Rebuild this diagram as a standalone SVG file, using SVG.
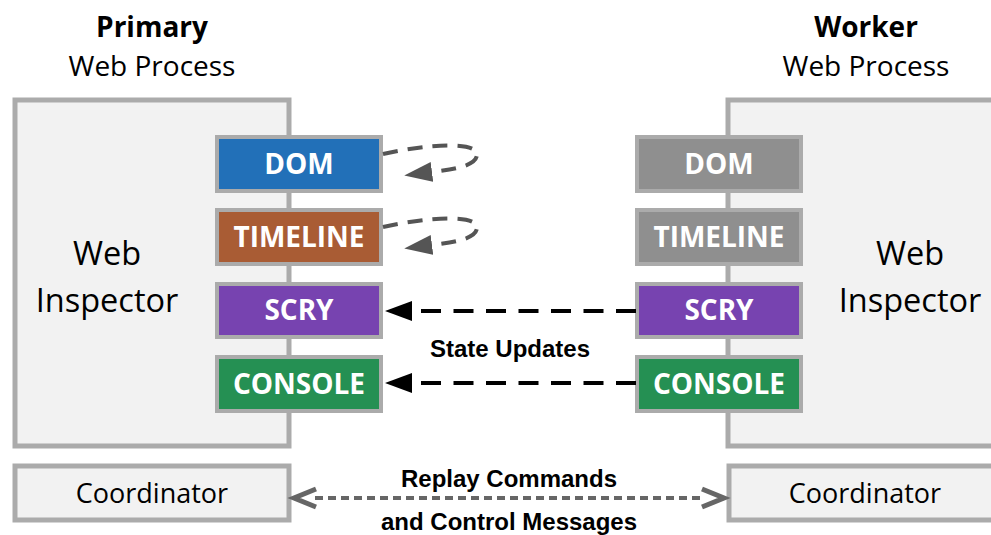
<svg xmlns="http://www.w3.org/2000/svg" width="991" height="535" viewBox="0 0 991 535">
<defs>
<style>
.frame{fill:#f2f2f2;stroke:#ababab;stroke-width:5}
.mod{stroke:#ababab;stroke-width:4}
.modt{font-family:"Open Sans","Noto Sans",sans-serif;font-weight:bold;font-size:28px;fill:#fff;text-anchor:middle}
.big{font-family:"Open Sans","Noto Sans",sans-serif;font-size:32.5px;fill:#000;text-anchor:middle}
.title{font-family:"Open Sans","Noto Sans",sans-serif;font-size:28px;fill:#000;text-anchor:middle}
.coord{font-family:"Open Sans","Noto Sans",sans-serif;font-size:27px;fill:#000;text-anchor:middle}
.lbl{font-family:"Liberation Sans",Arial,sans-serif;font-weight:bold;font-size:24px;fill:#000;text-anchor:middle}
.loop{fill:none;stroke:#555;stroke-width:4;stroke-dasharray:15 10;marker-end:url(#grayHead)}
.upd{fill:none;stroke:#000;stroke-width:4;stroke-dasharray:20 12.5;marker-end:url(#blackHead)}
</style>
<marker id="grayHead" markerUnits="userSpaceOnUse" markerWidth="28" markerHeight="20" refX="0" refY="10" orient="auto">
<path d="M0,0 L28,10 L0,20 z" fill="#555"/>
</marker>
<marker id="blackHead" markerUnits="userSpaceOnUse" markerWidth="27" markerHeight="20" refX="0" refY="10" orient="auto">
<path d="M0,0 L27,10 L0,20 z" fill="#000"/>
</marker>
</defs>
<rect width="991" height="535" fill="#fff"/>

<g id="titles">
<text class="title" x="152" y="37" font-weight="bold">Primary</text>
<text class="title" x="152" y="76">Web Process</text>
<text class="title" x="866" y="37" font-weight="bold">Worker</text>
<text class="title" x="866" y="76">Web Process</text>
</g>

<g id="primary-inspector">
<rect class="frame" x="15" y="100" width="274" height="346"/>
<text class="big" x="107" y="265">Web</text>
<text class="big" x="107" y="312">Inspector</text>
</g>
<g id="worker-inspector">
<rect class="frame" x="728" y="100" width="300" height="346"/>
<text class="big" x="910" y="265">Web</text>
<text class="big" x="910" y="312">Inspector</text>
</g>

<g id="p-dom"><rect class="mod" x="217" y="137" width="164" height="54" fill="#2270b8"/><text class="modt" x="299" y="174">DOM</text></g>
<g id="p-timeline"><rect class="mod" x="217" y="210" width="164" height="54" fill="#a95c34"/><text class="modt" x="299" y="247">TIMELINE</text></g>
<g id="p-scry"><rect class="mod" x="217" y="284" width="164" height="53" fill="#7743b0"/><text class="modt" x="299" y="320">SCRY</text></g>
<g id="p-console"><rect class="mod" x="217" y="357" width="164" height="54" fill="#259053"/><text class="modt" x="299" y="394">CONSOLE</text></g>

<g id="w-dom"><rect class="mod" x="637" y="137" width="164" height="54" fill="#8f8f8f"/><text class="modt" x="719" y="174">DOM</text></g>
<g id="w-timeline"><rect class="mod" x="637" y="210" width="164" height="54" fill="#8f8f8f"/><text class="modt" x="719" y="247">TIMELINE</text></g>
<g id="w-scry"><rect class="mod" x="637" y="284" width="164" height="53" fill="#7743b0"/><text class="modt" x="719" y="320">SCRY</text></g>
<g id="w-console"><rect class="mod" x="637" y="357" width="164" height="54" fill="#259053"/><text class="modt" x="719" y="394">CONSOLE</text></g>

<g id="p-coordinator">
<rect class="frame" x="15" y="466" width="274" height="54"/>
<text class="coord" x="152" y="503">Coordinator</text>
</g>
<g id="w-coordinator">
<rect class="frame" x="729" y="466" width="300" height="54"/>
<text class="coord" x="865" y="503">Coordinator</text>
</g>

<g id="connectors">
<path class="loop" d="M383,154 C428,144 478,141 477,155 C476,166 455,169 432,172"/>
<path class="loop" d="M383,227 C428,217 478,214 477,228 C476,239 455,242 432,245"/>
<path class="upd" d="M636,311 L412,311"/>
<path class="upd" d="M636,383 L412,383"/>
<path d="M315,498 L703,498" fill="none" stroke="#666" stroke-width="4" stroke-dasharray="8 5"/>
<polyline points="316,489 294,498 316,507" fill="none" stroke="#666" stroke-width="5"/>
<polyline points="702,489 724,498 702,507" fill="none" stroke="#666" stroke-width="5"/>
</g>

<g id="labels">
<text class="lbl" x="510" y="357">State Updates</text>
<text class="lbl" x="509" y="487">Replay Commands</text>
<text class="lbl" x="509" y="530">and Control Messages</text>
</g>
</svg>
